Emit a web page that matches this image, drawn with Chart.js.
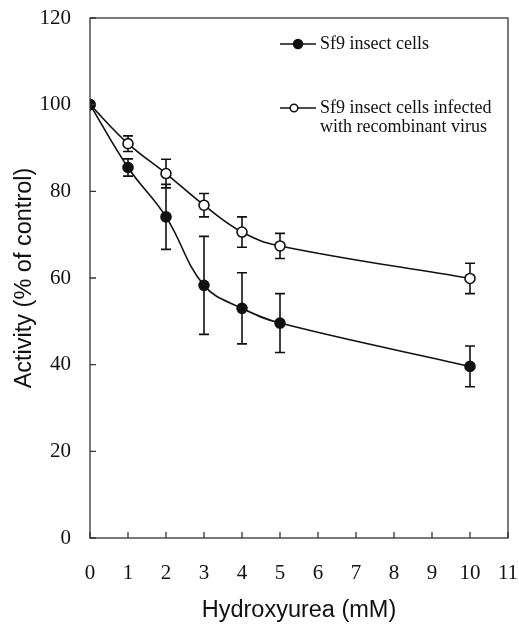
<!DOCTYPE html>
<html>
<head>
<meta charset="utf-8">
<script src="https://cdn.jsdelivr.net/npm/chart.js@4.4.1/dist/chart.umd.min.js"></script>
<style>
  html, body { margin: 0; padding: 0; background: #fff; }
  #wrap { width: 519px; height: 625px; }
</style>
</head>
<body>
<div id="wrap"><canvas id="chart" width="519" height="625"></canvas></div>
<script>
// Hydroxyurea concentration (mM)
const doses = [0, 1, 2, 3, 4, 5, 10];
const xTicks = [0, 1, 2, 3, 4, 5, 6, 7, 8, 9, 10, 11];
const yTicks = [0, 20, 40, 60, 80, 100, 120];

// Sf9 insect cells (filled circles)
const sf9 = [100, 85.5, 74.1, 58.3, 53.0, 49.6, 39.6];
const sf9Err = [0, 2.0, 7.5, 11.3, 8.2, 6.8, 4.7];

// Sf9 insect cells infected with recombinant virus (open circles)
const sf9Inf = [100, 91.0, 84.1, 76.8, 70.6, 67.4, 59.9];
const sf9InfErr = [0, 1.8, 3.3, 2.7, 3.5, 2.9, 3.5];

const legendLabels = [
    ['Sf9 insect cells'],
    ['Sf9 insect cells infected', 'with recombinant virus']
];

const serif = '"Liberation Serif", "Times New Roman", serif';
const sans = '"Liberation Sans", Arial, sans-serif';

function toPoints(ys) {
    return doses.map((d, i) => ({x: d, y: ys[i]}));
}

// keep the plot box where the reference has it
function noPad(scale) {
    scale.paddingLeft = 0;
    scale.paddingRight = 0;
    scale.paddingTop = 0;
    scale.paddingBottom = 0;
}

// error bars, drawn under the markers
const errorBars = {
    id: 'errorBars',
    beforeDatasetsDraw(chart) {
        const ctx = chart.ctx;
        const xs = chart.scales.x, ys = chart.scales.y;
        const errs = [sf9Err, sf9InfErr];
        const vals = [sf9, sf9Inf];
        ctx.save();
        ctx.strokeStyle = '#111';
        ctx.lineWidth = 1.6;
        errs.forEach((err, k) => {
            doses.forEach((d, i) => {
                if (!err[i]) return;
                const px = xs.getPixelForValue(d);
                const top = ys.getPixelForValue(vals[k][i] + err[i]);
                const bot = ys.getPixelForValue(vals[k][i] - err[i]);
                ctx.beginPath();
                ctx.moveTo(px, top); ctx.lineTo(px, bot);
                ctx.moveTo(px - 5, top); ctx.lineTo(px + 5, top);
                ctx.moveTo(px - 5, bot); ctx.lineTo(px + 5, bot);
                ctx.stroke();
            });
        });
        ctx.restore();
    }
};

// box frame, inward ticks and the legend
const frame = {
    id: 'frame',
    afterDraw(chart) {
        const ctx = chart.ctx;
        const {left, right, top, bottom} = chart.chartArea;
        const xs = chart.scales.x, ys = chart.scales.y;
        ctx.save();
        ctx.strokeStyle = '#333';
        ctx.lineWidth = 1.3;
        ctx.strokeRect(left, top, right - left, bottom - top);
        ctx.beginPath();
        xTicks.forEach(v => {
            const px = xs.getPixelForValue(v);
            ctx.moveTo(px, bottom); ctx.lineTo(px, bottom - 6);
        });
        yTicks.forEach(v => {
            const py = ys.getPixelForValue(v);
            ctx.moveTo(left, py); ctx.lineTo(left + 6, py);
        });
        ctx.stroke();

        // legend
        const rows = [44, 108];
        ctx.font = '18px ' + serif;
        ctx.fillStyle = '#111';
        ctx.textBaseline = 'middle';
        rows.forEach((y, k) => {
            ctx.strokeStyle = '#111';
            ctx.lineWidth = 1.5;
            ctx.beginPath();
            ctx.moveTo(280, y); ctx.lineTo(316, y);
            ctx.stroke();
            ctx.beginPath();
            ctx.arc(k === 0 ? 298 : 294, y, k === 0 ? 4.5 : 3.8, 0, Math.PI * 2);
            ctx.fillStyle = k === 0 ? '#111' : '#fff';
            ctx.fill();
            ctx.stroke();
            ctx.fillStyle = '#111';
            legendLabels[k].forEach((t, j) => {
                ctx.fillText(t, 320, y + j * 19);
            });
        });
        ctx.restore();
    }
};

new Chart(document.getElementById('chart'), {
    type: 'line',
    data: {
        datasets: [{
            label: legendLabels[0][0],
            data: toPoints(sf9),
            borderColor: '#111',
            borderWidth: 1.6,
            backgroundColor: '#111',
            pointBackgroundColor: '#111',
            pointBorderColor: '#111',
            pointRadius: 5,
            tension: 0.4
        }, {
            label: legendLabels[1].join(' '),
            data: toPoints(sf9Inf),
            borderColor: '#111',
            borderWidth: 1.6,
            backgroundColor: '#fff',
            pointBackgroundColor: '#fff',
            pointBorderColor: '#111',
            pointBorderWidth: 1.6,
            pointRadius: 5,
            tension: 0.4
        }]
    },
    options: {
        responsive: false,
        animation: false,
        events: [],
        layout: {padding: {top: 18, right: 11, left: 0, bottom: 0}},
        plugins: {
            legend: {display: false},
            tooltip: {enabled: false}
        },
        scales: {
            x: {
                type: 'linear',
                min: 0,
                max: 11,
                afterFit(scale) { scale.height = 87; noPad(scale); },
                afterBuildTicks(scale) { scale.ticks = xTicks.map(v => ({value: v})); },
                grid: {display: false, drawTicks: false},
                border: {display: false},
                ticks: {
                    color: '#111',
                    padding: 23,
                    font: {family: serif, size: 21}
                },
                title: {
                    display: true,
                    text: 'Hydroxyurea (mM)',
                    color: '#111',
                    font: {family: sans, size: 23.5},
                    padding: {top: 0, bottom: 0}
                }
            },
            y: {
                min: 0,
                max: 120,
                afterFit(scale) { scale.width = 90; noPad(scale); },
                afterBuildTicks(scale) { scale.ticks = yTicks.map(v => ({value: v})); },
                grid: {display: false, drawTicks: false},
                border: {display: false},
                ticks: {
                    color: '#111',
                    padding: 19,
                    font: {family: serif, size: 21}
                },
                title: {
                    display: true,
                    text: 'Activity (% of control)',
                    color: '#111',
                    font: {family: sans, size: 23.5},
                    padding: {top: 10, bottom: 0}
                }
            }
        }
    },
    plugins: [errorBars, frame]
});
</script>
</body>
</html>
